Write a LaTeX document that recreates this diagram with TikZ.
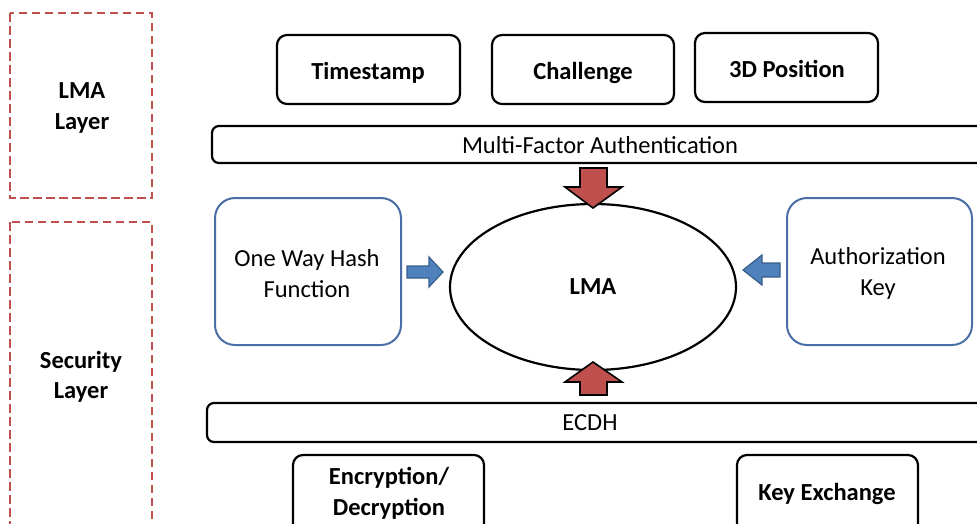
\documentclass[tikz,border=0pt]{standalone}
\usepackage{fontspec}
\setmainfont{Carlito}
\begin{document}
\begin{tikzpicture}[x=1pt,y=-1pt,
  font=\fontsize{24.5}{30.5}\selectfont,
  layerbox/.style={draw=lred, line width=2.6pt, dash pattern=on 8.5pt off 4.5pt},
  blackbox/.style={draw=black, line width=2.2pt, rounded corners=10pt, inner sep=0pt},
  barbox/.style={draw=black, line width=2.2pt, rounded corners=7pt, inner sep=0pt},
  bluebox/.style={draw=bbord, line width=2pt, rounded corners=20pt, inner sep=0pt},
  txt/.style={inner sep=0pt, align=center},
  btxt/.style={inner sep=0pt, align=center, font=\fontsize{24.5}{30.5}\selectfont\bfseries},
  redarrow/.style={fill=lred, draw=black, line width=1.6pt, line join=miter},
  bluearrow/.style={fill=bfill, draw=bdark, line width=1.2pt, line join=miter}
]
\definecolor{lred}{HTML}{C0504D}
\definecolor{bfill}{HTML}{4F81BD}
\definecolor{bdark}{HTML}{385D8A}
\definecolor{bbord}{HTML}{4A6EA5}
\useasboundingbox (0,0) rectangle (977,523);
\clip (0,0) rectangle (977,523);

% layer boxes
\draw[layerbox] (10,13) rectangle (152,198);
\node[btxt] (lmalayer) at (82,108) {LMA\\Layer};
\draw[layerbox] (10,222) rectangle (152,540);
\node[btxt] (seclayer) at (81,377) {Security\\Layer};

% top factor boxes
\node[blackbox, minimum width=183pt, minimum height=69pt] (ts) at (368.5,69.5) {};
\node[btxt, text depth=0pt] (tstxt) at (368,71) {Timestamp};
\node[blackbox, minimum width=182pt, minimum height=69pt] (ch) at (583,69.5) {};
\node[btxt, text depth=0pt] (chtxt) at (583,71) {Challenge};
\node[blackbox, minimum width=183pt, minimum height=69pt] (pos) at (786.5,67.5) {};
\node[btxt, text depth=0pt] (postxt) at (787,69) {3D Position};

% MFA bar
\node[barbox, minimum width=800pt, minimum height=37pt] (mfa) at (612,144.5) {};
\node[txt] (mfatxt) at (600,145) {Multi-Factor Authentication};

% LMA ellipse
\draw[line width=2.2pt] (593,287) ellipse [x radius=143, y radius=83];
\node[btxt, text depth=0pt] (lma) at (593,287) {LMA};

% side boxes
\node[bluebox, minimum width=186pt, minimum height=147pt] (hash) at (308,271.5) {};
\node[txt] (hashtxt) at (307,273.5) {One Way Hash\\Function};
\node[bluebox, minimum width=185pt, minimum height=147pt] (auth) at (879.5,271.5) {};
\node[txt] (authtxt) at (878,273.5) {Authorization\\Key};

% ECDH bar
\node[barbox, minimum width=800pt, minimum height=39pt] (ecdh) at (607,422.5) {};
\node[txt, text depth=0pt] (ecdhtxt) at (590,423) {ECDH};

% bottom boxes
\node[blackbox, minimum width=191pt, minimum height=100pt] (enc) at (388.5,505) {};
\node[btxt] (enctxt) at (389,493.5) {Encryption/\\Decryption};
\node[blackbox, minimum width=181pt, minimum height=100pt] (kex) at (827.5,505) {};
\node[btxt, text depth=0pt] (kextxt) at (827,492) {Key Exchange};

% red arrows
\draw[redarrow] (580,168) -- (607,168) -- (607,187) -- (622,187) -- (593,208) -- (565,187) -- (580,187) -- cycle;
\draw[redarrow] (580,395) -- (607,395) -- (607,382) -- (622,382) -- (593,362) -- (565,382) -- (580,382) -- cycle;

% blue arrows
\draw[bluearrow] (407,266) -- (429,266) -- (429,257) -- (443,272) -- (429,287) -- (429,278) -- (407,278) -- cycle;
\draw[bluearrow] (780,263) -- (762,263) -- (762,255) -- (743,270) -- (762,285) -- (762,277) -- (780,277) -- cycle;
\end{tikzpicture}
\end{document}
